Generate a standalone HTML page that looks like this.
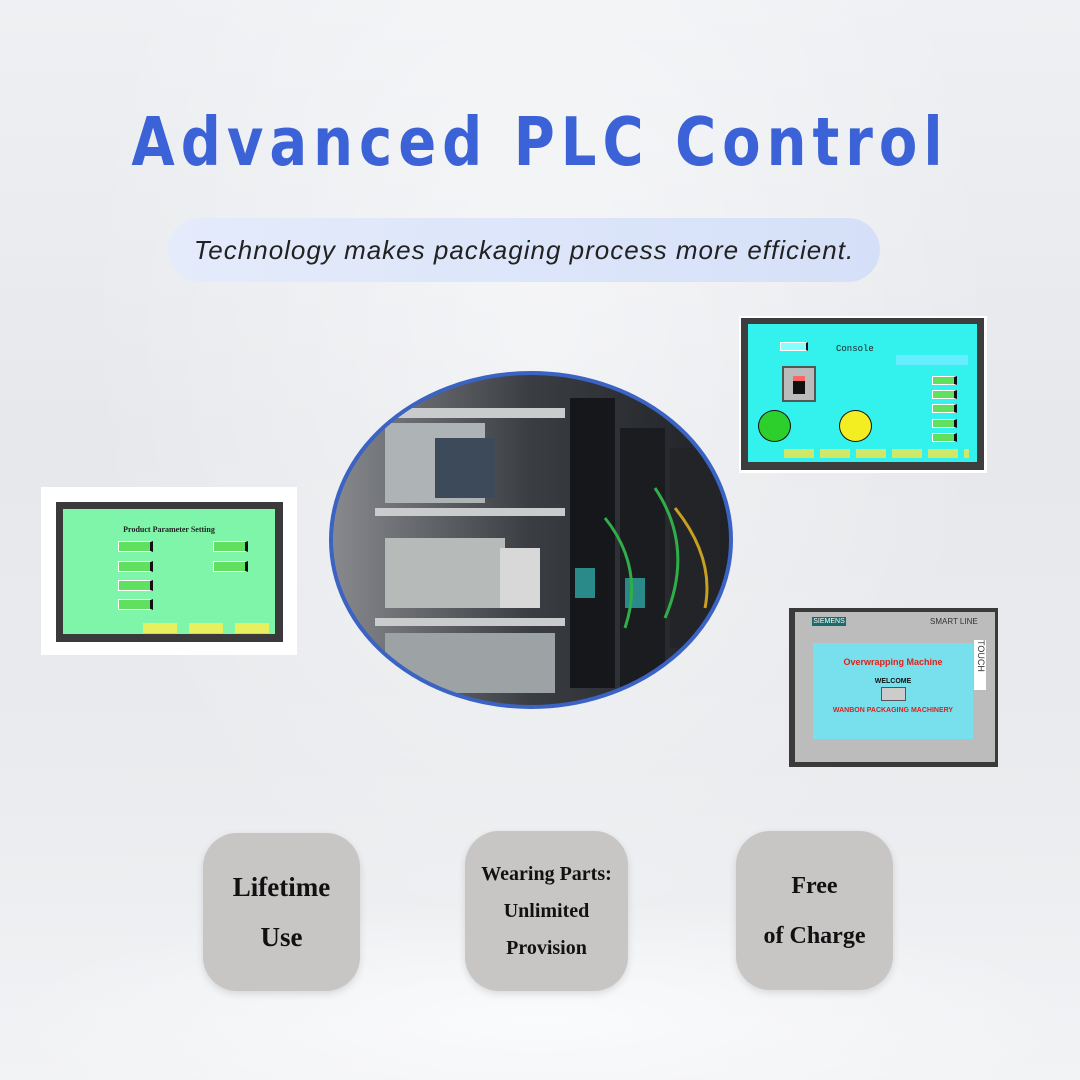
<!DOCTYPE html>
<html><head><meta charset="utf-8"><style>
*{margin:0;padding:0;box-sizing:border-box}
body{width:1080px;height:1080px;overflow:hidden;position:relative;background:linear-gradient(180deg,#eef0f3 0%,#e6e8ec 40%,#e9ebee 70%,#f2f3f5 100%);font-family:"Liberation Sans",sans-serif}
.abs{position:absolute}
.title{left:0;width:1080px;top:104px;text-align:center;color:#3b62d6;font-size:56px;letter-spacing:6px;font-weight:bold;font-family:"DejaVu Sans","Liberation Sans",sans-serif;transform:scaleY(1.2);transform-origin:center top}
.pill{left:168px;top:218px;width:712px;height:64px;border-radius:32px;background:linear-gradient(90deg,#e4ebfb,#d5e0f8);color:#222;font-style:italic;font-size:26px;text-align:center;line-height:64px;letter-spacing:1px}
.box{background:#c8c5c5;border-radius:34px;text-align:center;font-family:"Liberation Serif",serif;font-weight:bold;color:#111;display:flex;align-items:center;justify-content:center;box-shadow:0 3px 8px rgba(0,0,0,.12)}
.scr{font-family:"Liberation Mono",monospace;font-weight:bold;font-size:5px;color:#222}
.g{background:#5fe05f;border:1px solid #fff;border-right:3px solid #111;font-size:6px;text-align:center}
</style></head><body>
<div class="abs" style="left:0;top:0;width:1080px;height:1080px;background:radial-gradient(ellipse at 540px 300px,rgba(255,255,255,.5),rgba(255,255,255,0) 60%)"></div>
<div class="abs" style="left:0;top:900px;width:1080px;height:180px;background:radial-gradient(ellipse at 540px 120px,#fafbfc,rgba(255,255,255,0) 70%)"></div>
<div class="abs title">Advanced PLC Control</div>
<div class="abs pill">Technology makes packaging process more efficient.</div>

<div class="abs" style="left:739px;top:316px;width:248px;height:157px;background:#fff"></div>
<div class="abs" style="left:741px;top:318px;width:243px;height:152px;background:#3d3d3d"></div>
<div class="abs" style="left:748px;top:324px;width:229px;height:138px;background:#33f2ee">
 <div class="abs scr" style="top:20px;font-size:9px;font-weight:normal;left:88px">Console</div>
 <div class="abs" style="left:32px;top:18px;width:28px;height:9px;background:#8ff;border:1px solid #fff;border-right:2px solid #111"></div>
 <div class="abs" style="left:34px;top:42px;width:34px;height:36px;background:#bbb;border:2px solid #555"><div style="margin:8px auto;width:12px;height:18px;background:#111;border-top:5px solid #f66"></div></div>
 <div class="abs" style="left:10px;top:86px;width:33px;height:32px;border-radius:50%;background:#2dcf2d;border:1px solid #111"></div>
 <div class="abs" style="left:91px;top:86px;width:33px;height:32px;border-radius:50%;background:#f2ee22;border:1px solid #111"></div>
 <div class="abs" style="left:148px;top:31px;width:72px;height:10px;background:#6ef"></div>
 <div class="abs g" style="left:184px;top:52px;width:25px;height:9px"></div>
 <div class="abs g" style="left:184px;top:66px;width:25px;height:9px"></div>
 <div class="abs g" style="left:184px;top:80px;width:25px;height:9px"></div>
 <div class="abs g" style="left:184px;top:95px;width:25px;height:9px"></div>
 <div class="abs g" style="left:184px;top:109px;width:25px;height:9px"></div>
 <div class="abs" style="left:36px;top:125px;width:185px;height:9px;background:repeating-linear-gradient(90deg,#cfe86a 0 30px,#33f2ee 30px 36px)"></div>
</div>

<div class="abs" style="left:41px;top:487px;width:256px;height:168px;background:#fff"></div>
<div class="abs" style="left:56px;top:502px;width:227px;height:140px;background:#3a3a3a"></div>
<div class="abs" style="left:63px;top:509px;width:212px;height:125px;background:#7ef5a8">
 <div class="abs" style="left:0;width:212px;top:16px;text-align:center;font-family:'Liberation Serif',serif;font-weight:bold;font-size:8px;color:#222">Product Parameter Setting</div>
 <div class="abs g" style="left:55px;top:32px;width:35px;height:11px"></div>
 <div class="abs g" style="left:55px;top:52px;width:35px;height:11px"></div>
 <div class="abs g" style="left:55px;top:71px;width:35px;height:11px"></div>
 <div class="abs g" style="left:55px;top:90px;width:35px;height:11px"></div>
 <div class="abs g" style="left:150px;top:32px;width:35px;height:11px"></div>
 <div class="abs g" style="left:150px;top:52px;width:35px;height:11px"></div>
 <div class="abs" style="left:80px;top:114px;width:34px;height:10px;background:#e8f060"></div>
 <div class="abs" style="left:126px;top:114px;width:34px;height:10px;background:#e8f060"></div>
 <div class="abs" style="left:172px;top:114px;width:34px;height:10px;background:#e8f060"></div>
</div>

<svg class="abs" style="left:325px;top:368px" width="412" height="345">
 <defs><clipPath id="c"><ellipse cx="206" cy="172" rx="199" ry="166"/></clipPath>
 <linearGradient id="bg" x1="0" x2="1"><stop offset="0" stop-color="#8a8c90"/><stop offset=".5" stop-color="#3a3d42"/><stop offset="1" stop-color="#1e2024"/></linearGradient></defs>
 <g clip-path="url(#c)">
  <rect width="412" height="345" fill="url(#bg)"/>
  <rect x="50" y="40" width="190" height="10" fill="#c9cbcc"/>
  <rect x="50" y="140" width="190" height="8" fill="#c9cbcc"/>
  <rect x="50" y="250" width="190" height="8" fill="#c9cbcc"/>
  <rect x="60" y="55" width="100" height="80" fill="#aeb3b6"/>
  <rect x="110" y="70" width="60" height="60" fill="#3c4a5a"/>
  <rect x="60" y="170" width="120" height="70" fill="#b6bab8"/>
  <rect x="175" y="180" width="40" height="60" fill="#d8d8d8"/>
  <rect x="60" y="265" width="170" height="60" fill="#9da2a4"/>
  <rect x="245" y="30" width="45" height="290" fill="#15171a"/>
  <rect x="295" y="60" width="45" height="270" fill="#1a1c20"/>
  <rect x="345" y="80" width="50" height="200" fill="#222428"/>
  <rect x="250" y="200" width="20" height="30" fill="#2a8a8a"/>
  <rect x="300" y="210" width="20" height="30" fill="#2a8a8a"/>
  <path d="M280 150 Q320 200 300 260 M330 120 Q370 180 340 250" stroke="#2fae4a" stroke-width="3" fill="none"/>
  <path d="M350 140 Q390 190 380 240" stroke="#c8a020" stroke-width="3" fill="none"/>
 </g>
 <ellipse cx="206" cy="172" rx="200" ry="167" fill="none" stroke="#3a63c4" stroke-width="4"/>
</svg>

<div class="abs" style="left:789px;top:608px;width:209px;height:159px;background:#3a3a3a"></div>
<div class="abs" style="left:795px;top:612px;width:200px;height:150px;background:#bcbcbc"></div>
<div class="abs" style="left:812px;top:617px;width:34px;height:9px;background:#1d6a6a;color:#fff;font-size:7px;text-align:center;line-height:9px">SIEMENS</div>
<div class="abs" style="left:930px;top:617px;font-size:8px;color:#333">SMART LINE</div>
<div class="abs" style="left:974px;top:640px;width:12px;height:50px;background:#fff;font-size:9px;writing-mode:vertical-rl;color:#333">TOUCH</div>
<div class="abs" style="left:813px;top:643px;width:160px;height:96px;background:#77e0ec">
 <div style="text-align:center;color:#e0201a;font-size:9px;font-weight:bold;margin-top:14px">Overwrapping Machine</div>
 <div style="text-align:center;color:#111;font-size:7px;font-weight:bold;margin-top:11px">WELCOME</div>
 <div style="margin:2px auto;width:25px;height:14px;background:#ccc;border:1px solid #555"></div>
 <div style="text-align:center;color:#e0201a;font-size:7px;font-weight:bold;margin-top:6px">WANBON PACKAGING MACHINERY</div>
</div>

<div class="abs box" style="left:203px;top:833px;width:157px;height:158px;font-size:27px;line-height:50px">Lifetime<br>Use</div>
<div class="abs box" style="left:465px;top:831px;width:163px;height:160px;font-size:20px;line-height:37px">Wearing Parts:<br>Unlimited<br>Provision</div>
<div class="abs box" style="left:736px;top:831px;width:157px;height:159px;font-size:24px;line-height:50px">Free<br>of Charge</div>
</body></html>
